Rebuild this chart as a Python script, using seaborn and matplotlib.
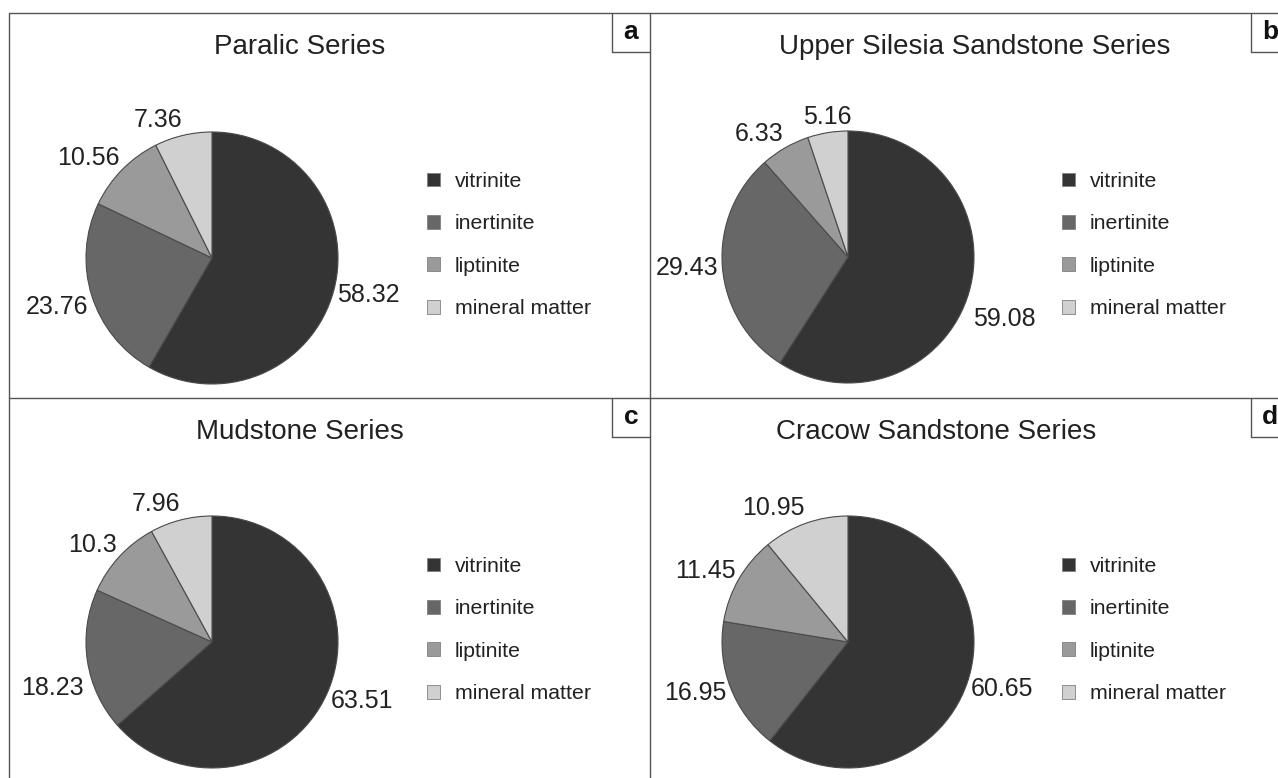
import numpy as np
import matplotlib
matplotlib.use("Agg")
import matplotlib.pyplot as plt
import seaborn as sns
from matplotlib.lines import Line2D
from matplotlib.patches import Patch

# -----------------------------
# Data
# -----------------------------
components = ["vitrinite", "inertinite", "liptinite", "mineral matter"]
colors = ["#343434", "#676767", "#9a9a9a", "#d0d0d0"]

titles = ["Paralic Series", "Upper Silesia Sandstone Series",
          "Mudstone Series", "Cracow Sandstone Series"]
letters = ["a", "b", "c", "d"]

paralic = [58.32, 23.76, 10.56, 7.36]
upper_silesia = [59.08, 29.43, 6.33, 5.16]
mudstone = [63.51, 18.23, 10.3, 7.96]
cracow = [60.65, 16.95, 11.45, 10.95]

series = [paralic, upper_silesia, mudstone, cracow]

# -----------------------------
# Layout (pixels)
# -----------------------------
W, H = 1278, 778
sns.set_theme(style="white")
plt.rcParams["font.family"] = ["Liberation Sans", "DejaVu Sans"]

fig = plt.figure(figsize=(W / 100, H / 100), dpi=100)


def fx(x):
    return x / W


def fy(y):
    return 1 - y / H


def hline(y, x0, x1):
    fig.add_artist(Line2D([fx(x0), fx(x1)], [fy(y), fy(y)], color="#555555",
                          lw=1.0, transform=fig.transFigure))


def vline(x, y0, y1):
    fig.add_artist(Line2D([fx(x), fx(x)], [fy(y0), fy(y1)], color="#555555",
                          lw=1.0, transform=fig.transFigure))


# frame lines
hline(13, 9, W)
hline(398, 9, W)
vline(9, 13, H)
vline(650, 13, H)

# panel geometry: pie center, title center, legend left, panel top
panels = [
    dict(cx=212, cy=258, tx=300, top=13, lx=427, rx=650),
    dict(cx=848, cy=257, tx=975, top=13, lx=1062, rx=1290),
    dict(cx=212, cy=642, tx=300, top=398, lx=427, rx=650),
    dict(cx=848, cy=642, tx=936, top=398, lx=1062, rx=1290),
]
# extra downward nudge (points) of some value labels, as placed in the original
label_nudge = [[0, -5, 0, 0], [-16, 0, 0, 0], [0, -18, 0, 0], [0, 0, 0, 0]]
R = 126

for i, (p, vals) in enumerate(zip(panels, series)):
    ax = fig.add_axes([fx(p["cx"] - R), fy(p["cy"] + R), 2 * R / W, 2 * R / H])
    wedges, _ = ax.pie(vals, colors=colors, startangle=90, counterclock=False,
                       wedgeprops=dict(edgecolor="#4a4a4a", linewidth=0.8))
    ax.set_xlim(-1, 1)
    ax.set_ylim(-1, 1)
    ax.set_aspect("equal")
    ax.axis("off")

    # value labels outside the wedges
    for j, (w, v) in enumerate(zip(wedges, vals)):
        ang = np.deg2rad((w.theta1 + w.theta2) / 2)
        c, s = np.cos(ang), np.sin(ang)
        if c > 0.2:
            ha = "left"
        elif c < -0.2:
            ha = "right"
        else:
            ha = "center"
        ax.annotate(f"{v:g}", xy=(1.03 * c, 1.03 * s),
                    xytext=(0, 9 * s + label_nudge[i][j]),
                    textcoords="offset points",
                    ha=ha, va="center", fontsize=18, color="#222222",
                    annotation_clip=False)

    # title
    top = p["top"]
    fig.text(fx(p["tx"]), fy(top + 34), titles[i], ha="center", va="center",
             fontsize=20, color="#222222")

    # letter box
    bx = p["rx"] - 38 if i % 2 == 0 else 1251
    vline(bx, top, top + 39)
    hline(top + 39, bx, bx + 38)
    fig.text(fx(bx + 19), fy(top + 19), letters[i], ha="center", va="center",
             fontsize=19, fontweight="bold", color="#111111")

    # legend
    handles = [Patch(facecolor=col, edgecolor="#808080", linewidth=0.6)
               for col in colors]
    fig.legend(handles, components, loc="upper left",
               bbox_to_anchor=(fx(p["lx"]), fy(top + 159)),
               bbox_transform=fig.transFigure, frameon=False, fontsize=15.3,
               handlelength=0.62, handleheight=0.62, handletextpad=0.68,
               labelspacing=1.1, borderpad=0, borderaxespad=0,
               labelcolor="#222222")

plt.savefig("out.png", dpi=100, facecolor="white")
plt.close()
